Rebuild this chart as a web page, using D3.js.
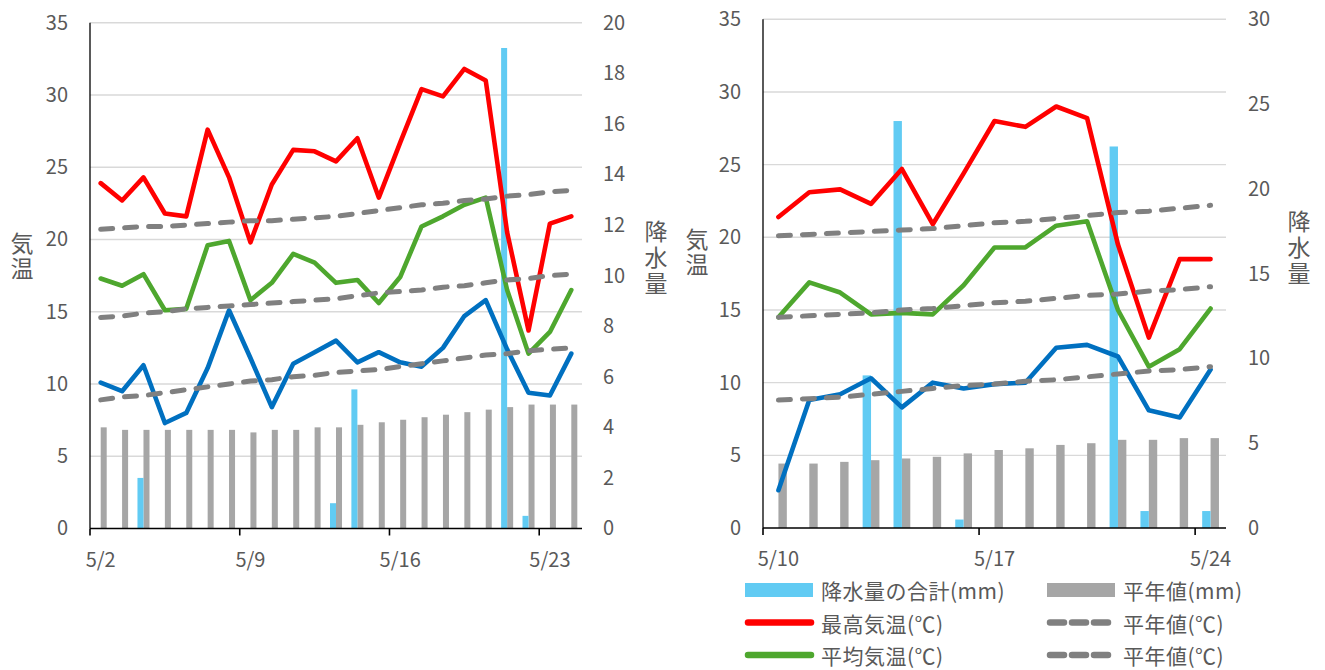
<!DOCTYPE html>
<html><head><meta charset="utf-8">
<script src="https://cdn.jsdelivr.net/npm/d3@7"></script>
<style>
body{margin:0;background:#fff}
svg{display:block}
text{font-family:"Noto Sans CJK JP","Noto Sans",sans-serif;}
.vt{writing-mode:vertical-rl;text-orientation:upright;}
</style>
</head><body>
<svg id="c" width="1325" height="670"></svg>
<script>
// ---------- data ----------
const leftDates = ["5/2","5/3","5/4","5/5","5/6","5/7","5/8","5/9","5/10","5/11","5/12","5/13","5/14","5/15","5/16","5/17","5/18","5/19","5/20","5/21","5/22","5/23","5/24"];
const leftMax = [23.9,22.7,24.3,21.8,21.6,27.6,24.3,19.8,23.8,26.2,26.1,25.4,27.0,22.9,26.7,30.4,29.9,31.8,31.0,20.5,13.7,21.1,21.6];
const leftAvg = [17.3,16.8,17.6,15.1,15.2,19.6,19.9,15.8,17.0,19.0,18.4,17.0,17.2,15.6,17.4,20.9,21.6,22.4,22.9,16.5,12.1,13.6,16.5];
const leftMin = [10.1,9.5,11.3,7.3,8.0,11.1,15.1,11.8,8.4,11.4,12.2,13.0,11.5,12.2,11.5,11.2,12.5,14.7,15.8,12.4,9.4,9.2,12.1];
const leftMaxNorm = [20.7,20.8,20.9,20.9,21.0,21.1,21.2,21.3,21.3,21.4,21.5,21.6,21.8,22.0,22.2,22.4,22.5,22.7,22.8,23.0,23.1,23.3,23.4];
const leftAvgNorm = [14.6,14.7,14.9,15.0,15.2,15.3,15.4,15.5,15.6,15.7,15.8,15.9,16.1,16.3,16.4,16.5,16.7,16.8,17.0,17.2,17.3,17.5,17.6];
const leftMinNorm = [8.9,9.1,9.2,9.4,9.6,9.8,10.0,10.2,10.3,10.5,10.6,10.8,10.9,11.0,11.2,11.4,11.6,11.8,12.0,12.1,12.3,12.4,12.5];
const leftRain = [0,0,2.0,0,0,0,0,0,0,0,0,1.0,5.5,0,0,0,0,0,0,19.0,0.5,0,0];
const leftRainNorm = [4.0,3.9,3.9,3.9,3.9,3.9,3.9,3.8,3.9,3.9,4.0,4.0,4.1,4.2,4.3,4.4,4.5,4.6,4.7,4.8,4.9,4.9,4.9];
const leftDateTicks = ["5/2","5/9","5/16","5/23"];

const rightDates = ["5/10","5/11","5/12","5/13","5/14","5/15","5/16","5/17","5/18","5/19","5/20","5/21","5/22","5/23","5/24"];
const rightMax = [21.4,23.1,23.3,22.3,24.7,20.9,24.4,28.0,27.6,29.0,28.2,19.5,13.1,18.5,18.5];
const rightAvg = [14.5,16.9,16.2,14.7,14.8,14.7,16.7,19.3,19.3,20.8,21.1,15.0,11.1,12.3,15.1];
const rightMin = [2.6,8.8,9.2,10.3,8.3,10.0,9.6,9.9,10.0,12.4,12.6,11.8,8.1,7.6,10.9];
const rightMaxNorm = [20.1,20.2,20.3,20.4,20.5,20.6,20.8,21.0,21.1,21.3,21.5,21.7,21.8,22.0,22.2];
const rightAvgNorm = [14.5,14.6,14.7,14.8,15.0,15.1,15.3,15.5,15.6,15.8,16.0,16.1,16.3,16.4,16.6];
const rightMinNorm = [8.8,8.9,9.0,9.2,9.4,9.6,9.8,9.9,10.1,10.2,10.4,10.6,10.8,10.9,11.1];
const rightRain = [0,0,0,9.0,24.0,0,0.5,0,0,0,0,22.5,1.0,0,1.0];
const rightRainNorm = [3.8,3.8,3.9,4.0,4.1,4.2,4.4,4.6,4.7,4.9,5.0,5.2,5.2,5.3,5.3];
const rightDateTicks = ["5/10","5/17","5/24"];

const tempTicks = [0,5,10,15,20,25,30,35];
const leftRainTicks = [0,2,4,6,8,10,12,14,16,18,20];
const rightRainTicks = [0,5,10,15,20,25,30];
const tempTitle = "気温";
const rainTitle = "降水量";
const legendLabels = ["降水量の合計(mm)","平年値(mm)","最高気温(℃)","平年値(℃)","平均気温(℃)","平年値(℃)"];

// ---------- style ----------
const C = {rain:"#61CBF3", rainNorm:"#A6A6A6", max:"#FF0000", avg:"#4EA72E", min:"#0070C0", norm:"#808080", grid:"#D9D9D9", text:"#595959"};

const svg = d3.select("#c");

function drawChart(o){
  const g = svg.append("g");
  const x = d3.scaleBand().domain(o.dates).range([o.x0,o.x1]).padding(0);
  const bw = x.bandwidth();
  const sub = d3.scaleBand().domain(["rain","norm"]).range([0,bw]).paddingInner(0).paddingOuter(o.pad);
  const yT = d3.scaleLinear().domain([0,35]).range([o.yb,o.yt]);
  const yR = d3.scaleLinear().domain([0,o.rmax]).range([o.yb,o.yt]);

  // grid
  g.selectAll("line.grid").data(tempTicks.filter(v=>v>0)).join("line")
    .attr("x1",o.x0).attr("x2",o.x1).attr("y1",d=>yT(d)).attr("y2",d=>yT(d))
    .attr("stroke",C.grid).attr("stroke-width",1.4);

  // bars
  g.selectAll("rect.rn").data(o.rainNorm).join("rect")
    .attr("x",(d,i)=>x(o.dates[i])+sub("norm")).attr("width",sub.bandwidth())
    .attr("y",d=>yR(d)).attr("height",d=>yR(0)-yR(d)).attr("fill",C.rainNorm);
  g.selectAll("rect.r").data(o.rain).join("rect")
    .attr("x",(d,i)=>x(o.dates[i])+sub("rain")).attr("width",sub.bandwidth())
    .attr("y",d=>yR(d)).attr("height",d=>yR(0)-yR(d)).attr("fill",C.rain);

  const line = d3.line().x((d,i)=>x(o.dates[i])+bw/2).y(d=>yT(d));
  [[o.max,C.max],[o.avg,C.avg],[o.min,C.min]].forEach(([s,c])=>{
    g.append("path").attr("d",line(s)).attr("fill","none").attr("stroke",c)
      .attr("stroke-width",4.6).attr("stroke-linejoin","round").attr("stroke-linecap","round");
  });
  [o.maxNorm,o.avgNorm,o.minNorm].forEach(s=>{
    g.append("path").attr("d",line(s)).attr("fill","none").attr("stroke",C.norm)
      .attr("stroke-width",5).attr("stroke-dasharray","12,12").attr("stroke-linecap","round");
  });

  // axes lines
  g.append("line").attr("x1",o.x0).attr("x2",o.x0).attr("y1",o.yt).attr("y2",o.yb).attr("stroke","#000").attr("stroke-width",1.3);
  g.append("line").attr("x1",o.x0).attr("x2",o.x1).attr("y1",o.yb).attr("y2",o.yb).attr("stroke","#000").attr("stroke-width",1.6);
  g.selectAll("line.tk").data(o.dateTicks).join("line")
    .attr("x1",d=>x(d)).attr("x2",d=>x(d)).attr("y1",o.yb).attr("y2",o.yb+7)
    .attr("stroke","#000").attr("stroke-width",1.6);

  // tick labels via d3 axes
  const styleAxis = sel => { sel.select(".domain").remove(); sel.attr("font-size",20).attr("font-family",'"Noto Sans CJK JP","Noto Sans",sans-serif').attr("color",C.text); sel.selectAll("text").attr("fill",C.text); };
  g.append("g").attr("transform",`translate(${o.x0},0)`)
    .call(d3.axisLeft(yT).tickValues(tempTicks).tickSize(0).tickPadding(22)).call(styleAxis);
  g.append("g").attr("transform",`translate(${o.x1},0)`)
    .call(d3.axisRight(yR).tickValues(o.rainTicks).tickSize(0).tickPadding(o.rpad)).call(styleAxis);
  g.append("g").attr("transform",`translate(0,${o.yb})`)
    .call(d3.axisBottom(x).tickValues(o.dateTicks).tickSize(0).tickPadding(24)).call(styleAxis);

  // vertical axis titles (upright stacked)
  const vtitle = (str,cx,cy,sp) => {
    g.append("text").attr("class","vt")
      .attr("x",cx).attr("y",cy).attr("text-anchor","middle")
      .attr("font-size",23).attr("letter-spacing",sp).attr("fill",C.text).text(str);
  };
  vtitle(tempTitle,o.tx,o.tcy,2);
  vtitle(rainTitle,o.rx,o.rcy,3);
}

drawChart({dates:leftDates,max:leftMax,avg:leftAvg,min:leftMin,maxNorm:leftMaxNorm,avgNorm:leftAvgNorm,minNorm:leftMinNorm,
  rain:leftRain,rainNorm:leftRainNorm,dateTicks:leftDateTicks,rainTicks:leftRainTicks,
  x0:90,x1:582,yb:528.5,yt:22.7,rmax:20,pad:0.78,rpad:21,tx:22,tcy:257,rx:656,rcy:259});
drawChart({dates:rightDates,max:rightMax,avg:rightAvg,min:rightMin,maxNorm:rightMaxNorm,avgNorm:rightAvgNorm,minNorm:rightMinNorm,
  rain:rightRain,rainNorm:rightRainNorm,dateTicks:rightDateTicks,rainTicks:rightRainTicks,
  x0:763,x1:1226,yb:528,yt:19.3,rmax:30,pad:0.84,rpad:22,tx:697,tcy:253,rx:1299,rcy:249});

// ---------- legend ----------
const legendTypes = ["bar","bar","line","dash","line","dash"];
const legendColors = [C.rain,C.rainNorm,C.max,C.norm,C.avg,C.norm];
const lg = svg.append("g");
const colX = [745,1047], rowY = [590,622.5,655];
legendLabels.forEach((lab,i)=>{
  const cx = colX[i%2], cy = rowY[Math.floor(i/2)];
  const t = legendTypes[i];
  if(t==="bar"){
    lg.append("rect").attr("x",cx).attr("y",cy-7).attr("width",68).attr("height",14).attr("fill",legendColors[i]);
  } else if(t==="line"){
    lg.append("line").attr("x1",cx+3).attr("x2",cx+66).attr("y1",cy).attr("y2",cy)
      .attr("stroke",legendColors[i]).attr("stroke-width",6.5).attr("stroke-linecap","round");
  } else {
    lg.append("line").attr("x1",cx+3).attr("x2",cx+61).attr("y1",cy).attr("y2",cy)
      .attr("stroke",legendColors[i]).attr("stroke-width",6.5).attr("stroke-linecap","round").attr("stroke-dasharray","14,8");
  }
  lg.append("text").attr("x",cx+76).attr("y",cy).attr("dominant-baseline","central")
    .attr("font-size",21).attr("letter-spacing",0.5).attr("fill",C.text).text(lab);
});
</script>
</body></html>
